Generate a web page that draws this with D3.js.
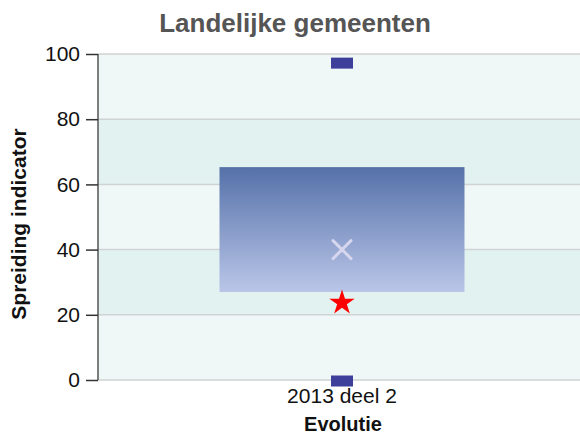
<!DOCTYPE html>
<html>
<head>
<meta charset="utf-8">
<script src="https://cdn.jsdelivr.net/npm/d3@7"></script>
<style>
  body { margin: 0; background: #fff; }
  text { font-family: "Liberation Sans", Arial, sans-serif; }
</style>
</head>
<body>
<svg id="chart" width="580" height="436"></svg>
<script>
// data
const categories = ["2013 deel 2"];
const boxLow = [27];
const boxHigh = [65.3];
const meanValues = [40];
const starValues = [24];
const maxValues = [97.2];
const minValues = [0];
const yTicks = [0, 20, 40, 60, 80, 100];

const margin = {top: 54, right: 0, bottom: 56, left: 98};
const width = 580 - margin.left - margin.right;
const height = 436 - margin.top - margin.bottom;

const svg = d3.select("#chart");
const g = svg.append("g").attr("transform", "translate(" + margin.left + "," + margin.top + ")");

const x = d3.scaleBand().domain(categories).range([0, 488]).paddingInner(0).paddingOuter(0);
const y = d3.scaleLinear().domain([0, 100]).range([height, 0]);

// alternating bands
for (let i = 0; i < yTicks.length - 1; i++) {
    g.append("rect")
        .attr("x", 0).attr("width", width)
        .attr("y", y(yTicks[i + 1])).attr("height", y(yTicks[i]) - y(yTicks[i + 1]))
        .attr("fill", i % 2 === 0 ? "#f0f8f7" : "#e2f2f1");
}

// grid lines
g.selectAll(".grid").data(yTicks).enter().append("line")
    .attr("x1", 0).attr("x2", width)
    .attr("y1", d => y(d)).attr("y2", d => y(d))
    .attr("stroke", "#d0d3d3").attr("stroke-width", 1.5);

// gradient for box
const defs = svg.append("defs");
const grad = defs.append("linearGradient").attr("id", "boxgrad")
    .attr("x1", 0).attr("y1", 0).attr("x2", 0).attr("y2", 1);
grad.append("stop").attr("offset", "0%").attr("stop-color", "#5571a9");
grad.append("stop").attr("offset", "100%").attr("stop-color", "#bac6e8");

const cx = d => x(d) + x.bandwidth() / 2;
const boxW = 245;

g.selectAll(".box").data(categories).enter().append("rect")
    .attr("x", d => cx(d) - boxW / 2)
    .attr("width", boxW)
    .attr("y", (d, i) => y(boxHigh[i]))
    .attr("height", (d, i) => y(boxLow[i]) - y(boxHigh[i]))
    .attr("fill", "url(#boxgrad)");

// mean cross
categories.forEach((c, i) => {
    const px = cx(c), py = y(meanValues[i]), s = 9;
    g.append("path")
        .attr("d", `M${px - s},${py - s}L${px + s},${py + s}M${px - s},${py + s}L${px + s},${py - s}`)
        .attr("stroke", "#d6d6ee").attr("stroke-width", 3).attr("stroke-linecap", "round");
});

// min / max markers
const markW = 22, markH = 11;
g.selectAll(".maxm").data(categories).enter().append("rect")
    .attr("x", d => cx(d) - markW / 2).attr("width", markW)
    .attr("y", (d, i) => y(maxValues[i]) - markH / 2).attr("height", markH)
    .attr("fill", "#3d3f9a");
g.selectAll(".minm").data(categories).enter().append("rect")
    .attr("x", d => cx(d) - markW / 2).attr("width", markW)
    .attr("y", (d, i) => y(minValues[i]) - markH / 2 + 1).attr("height", markH)
    .attr("fill", "#3d3f9a");

// star
g.selectAll(".star").data(categories).enter().append("path")
    .attr("d", d3.symbol().type(d3.symbolStar).size(200))
    .attr("transform", (d, i) => "translate(" + cx(d) + "," + (y(starValues[i]) + 1) + ")")
    .attr("fill", "#ff0000");

// y axis
const yAxis = g.append("g")
    .call(d3.axisLeft(y).tickValues(yTicks).tickSize(12).tickPadding(6));
yAxis.select(".domain").attr("stroke", "#555").attr("stroke-width", 1.5).attr("d", "M0," + height + "V0");
yAxis.selectAll(".tick line").attr("stroke", "#333").attr("stroke-width", 1.5);
yAxis.selectAll(".tick text").attr("font-size", 21).attr("fill", "#111")
    .attr("font-family", "Liberation Sans, Arial, sans-serif");

// x labels
g.selectAll(".xlab").data(categories).enter().append("text")
    .attr("x", d => cx(d)).attr("y", height + 23)
    .attr("text-anchor", "middle").attr("font-size", 21).attr("fill", "#111")
    .text(d => d);

// titles
svg.append("text").attr("x", 295).attr("y", 32)
    .attr("text-anchor", "middle").attr("font-size", 26).attr("font-weight", "bold")
    .attr("fill", "#555").text("Landelijke gemeenten");
svg.append("text").attr("x", margin.left + 245).attr("y", 431)
    .attr("text-anchor", "middle").attr("font-size", 20).attr("font-weight", "bold")
    .attr("fill", "#111").text("Evolutie");
svg.append("text")
    .attr("transform", "translate(26,224) rotate(-90)")
    .attr("text-anchor", "middle").attr("font-size", 21).attr("font-weight", "bold")
    .attr("fill", "#111").text("Spreiding indicator");
</script>
</body>
</html>
